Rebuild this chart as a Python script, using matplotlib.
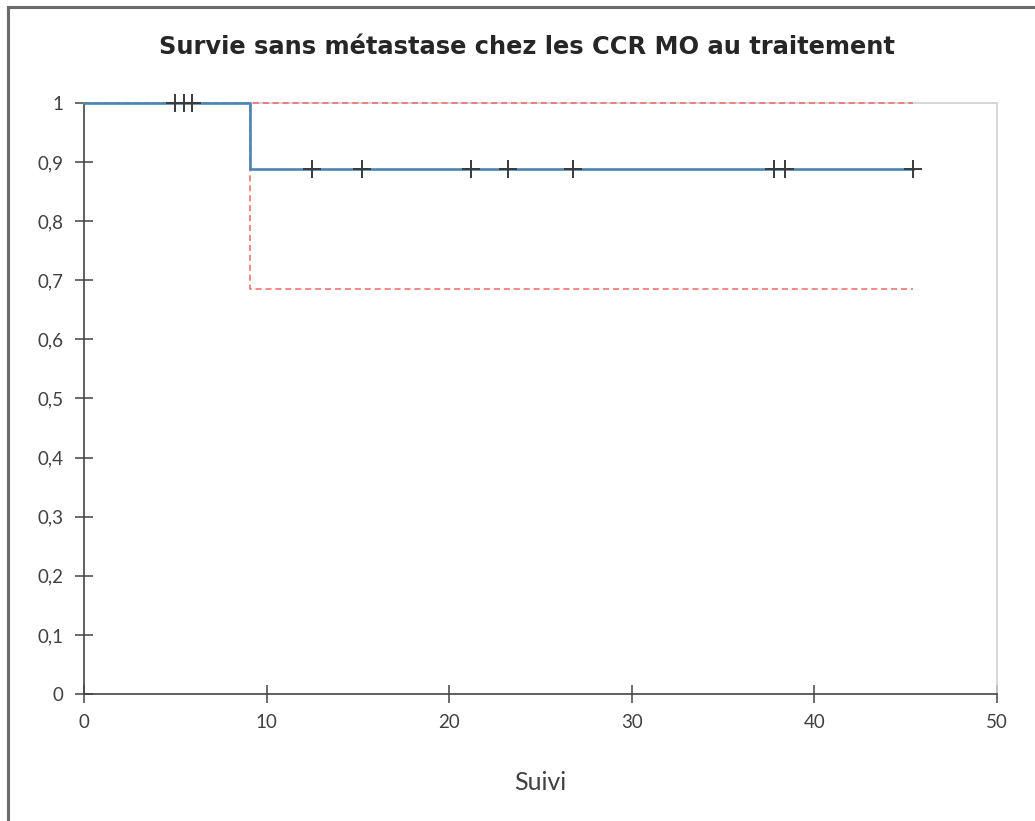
import matplotlib.pyplot as plt
from matplotlib.ticker import FuncFormatter, MultipleLocator
from matplotlib.lines import Line2D

# courbe de Kaplan-Meier
temps = [0, 9.1, 45.4]
survie = [1, 0.889, 0.889]
ic_bas = [1, 0.685, 0.685]
ic_haut = [1, 1, 1]

censures_t = [5.0, 5.5, 5.9, 12.5, 15.2, 21.2, 23.2, 26.8, 37.8, 38.4, 45.4]
censures_s = [1, 1, 1, 0.889, 0.889, 0.889, 0.889, 0.889, 0.889, 0.889, 0.889]

titre = "Survie sans métastase chez les CCR MO au traitement"
label_x = "Suivi"

fig = plt.figure(figsize=(10.35, 8.21), dpi=100)
ax = fig.add_axes([84 / 1035, 1 - 694 / 821, 913 / 1035, 591 / 821])

ax.step(temps, ic_haut, where="post", color="#f06868", lw=1.1, ls=(0, (4, 2.5)),
        zorder=5, clip_on=False)
ax.step(temps, ic_bas, where="post", color="#f06868", lw=1.1, ls=(0, (4, 2.5)), zorder=2)
ax.step(temps, survie, where="post", color="#4a86b0", lw=1.9, zorder=6, clip_on=False)
ax.plot(censures_t, censures_s, ls="none", marker="+", ms=13, mew=1.4,
        color="#3a3a3a", zorder=7, clip_on=False)

ax.set_xlim(0, 50)
ax.set_ylim(0, 1)
ax.xaxis.set_major_locator(MultipleLocator(10))
ax.yaxis.set_major_locator(MultipleLocator(0.1))

def virgule(v, pos):
    v = round(v, 1)
    if v == int(v):
        return str(int(v))
    return f"{v:.1f}".replace(".", ",")

ax.yaxis.set_major_formatter(FuncFormatter(virgule))

for c in ["left", "bottom"]:
    ax.spines[c].set_color("#444444")
    ax.spines[c].set_linewidth(1.2)
for c in ["top", "right"]:
    ax.spines[c].set_color("#d0d0d0")
    ax.spines[c].set_linewidth(1.2)

ax.tick_params(axis="both", direction="inout", length=13, width=1.1,
               color="#444444", labelsize=13.5, labelcolor="#404040")
ax.tick_params(axis="x", pad=8)
ax.tick_params(axis="y", pad=8)
for lab in ax.get_xticklabels() + ax.get_yticklabels():
    lab.set_family("Lato")

ax.set_xlabel(label_x, fontsize=18, color="#404040", family="Lato")
ax.xaxis.set_label_coords(0.5, -0.13)
ax.xaxis.label.set_va("top")

fig.text(527 / 1035, 1 - 47 / 821, titre, ha="center", va="center", fontsize=17.4,
         fontweight="bold", family="DejaVu Sans", color="#262626")

# cadre extérieur (haut et gauche visibles)
fig.add_artist(Line2D([8 / 1035, 8 / 1035], [0, 1 - 7 / 821], color="#6a6a6a", lw=2.2))
fig.add_artist(Line2D([8 / 1035, 1], [1 - 7 / 821, 1 - 7 / 821], color="#6a6a6a", lw=2.2))

fig.savefig("out.png", dpi=100)
